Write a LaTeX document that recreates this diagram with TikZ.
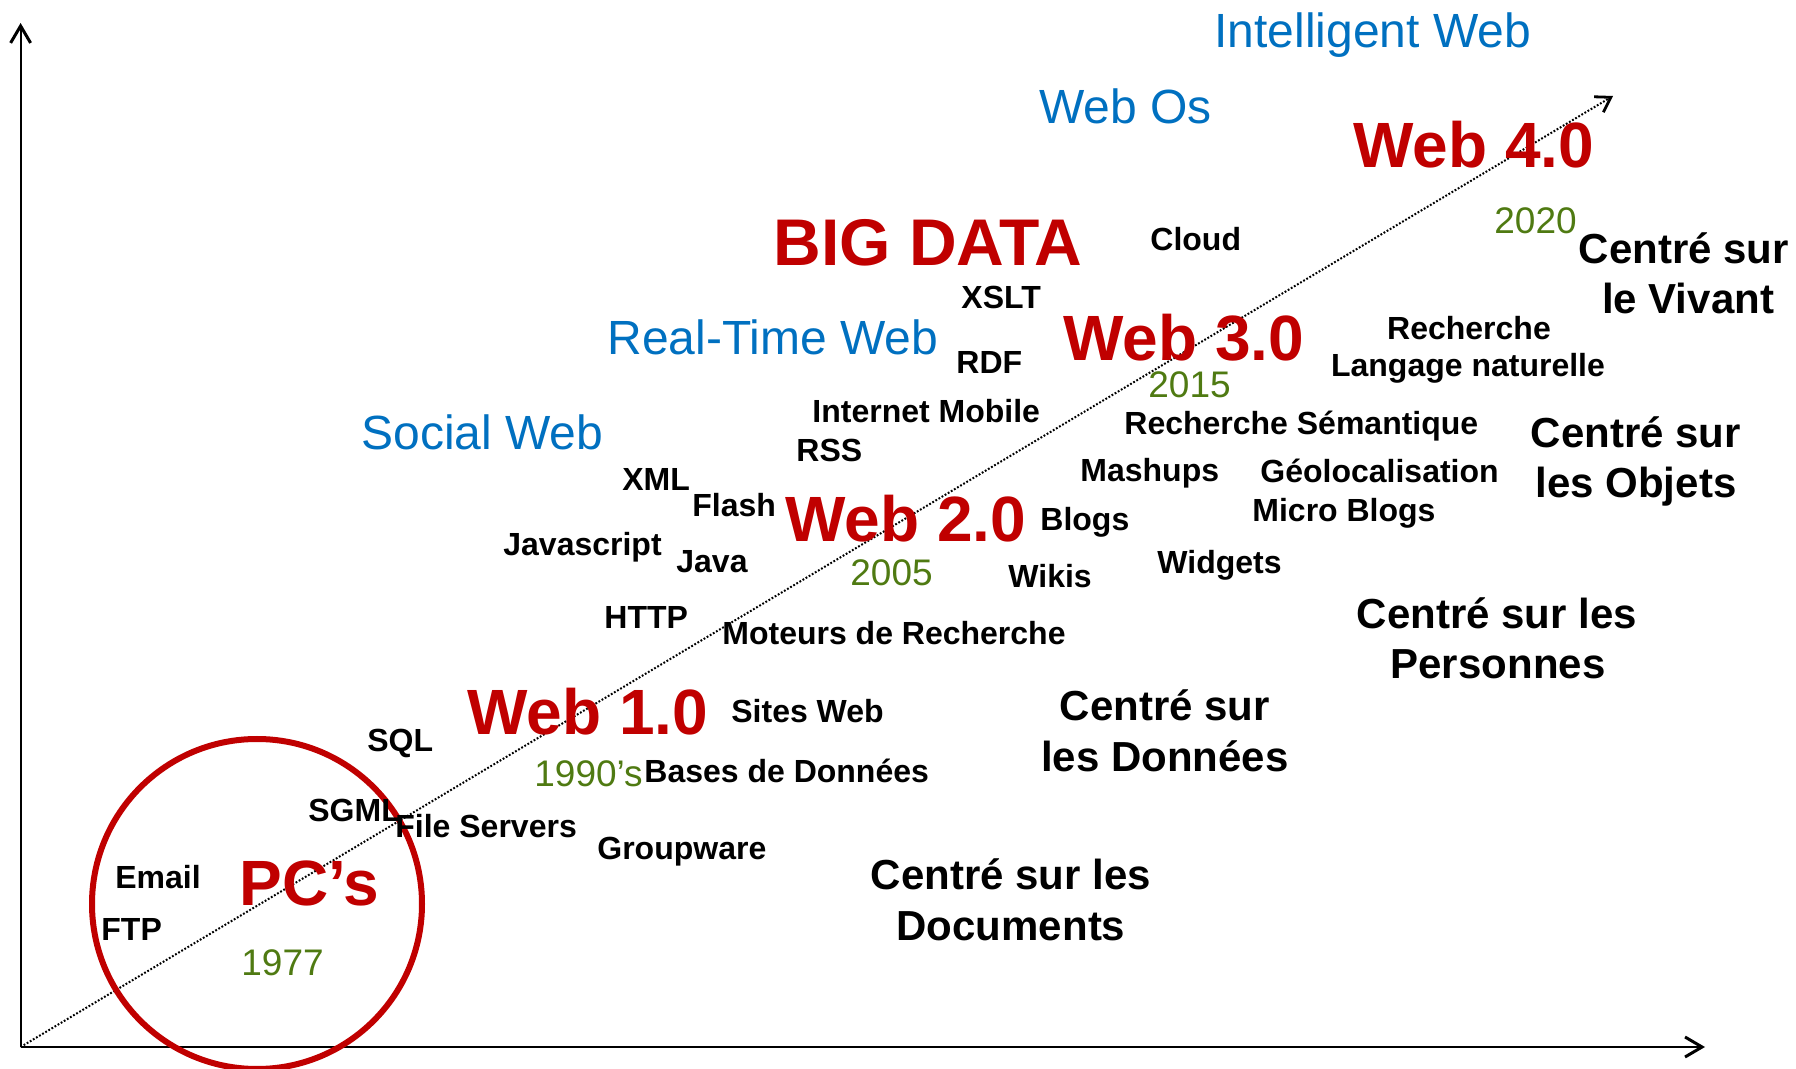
\documentclass[tikz,border=0pt]{standalone}
\usepackage{fontspec}
\setmainfont{Liberation Sans}
\usetikzlibrary{arrows.meta}
\definecolor{webred}{RGB}{192,0,0}
\definecolor{webblue}{RGB}{0,112,192}
\definecolor{webgreen}{RGB}{79,122,18}
\begin{document}
\begin{tikzpicture}[x=0.5pt,y=-0.5pt,
  blk/.style={font=\bfseries\fontsize{16}{19}\selectfont, anchor=base west, inner sep=0pt},
  bigc/.style={font=\bfseries\fontsize{21}{25}\selectfont, anchor=base, inner sep=0pt},
  era/.style={font=\bfseries\fontsize{32}{38}\selectfont, text=webred, anchor=base west, inner sep=0pt},
  blu/.style={font=\fontsize{24}{29}\selectfont, text=webblue, anchor=base west, inner sep=0pt},
  grn/.style={font=\fontsize{18.5}{22}\selectfont, text=webgreen, anchor=base west, inner sep=0pt},
  axis/.style={line width=1pt, -{Straight Barb[length=8.5pt,width=10pt,line width=1.5pt]}},
  diag/.style={line width=1pt, dash pattern=on 0.9pt off 0.9pt, -{Straight Barb[length=7pt,width=9pt,line width=1.4pt,line cap=butt]}},
  ring/.style={draw=webred, line width=3pt}
]
\useasboundingbox (0,0) rectangle (1796,1069);
\coordinate (O) at (20.6,1047);
\coordinate (ytop) at (20.6,23);
\coordinate (xend) at (1705,1047);
\coordinate (dend) at (1613,96);
\draw[axis] (O) -- (ytop);
\draw[axis] (O) -- (xend);
\draw[diag] (O) -- (dend);
\draw[ring] (257,904) circle (165);

% blue
\node[blu] (iweb) at (1214,48) {Intelligent Web};
\node[blu] (webos) at (1039,124) {Web Os};
\node[blu] (rtweb) at (607,355) {Real-Time Web};
\node[blu] (social) at (361,450) {Social Web};

% red
\node[era] (w4) at (1353,168) {Web 4.0};
\node[era, font=\bfseries\fontsize{33}{39}\selectfont] (bigdata) at (773,266) {BIG DATA};
\node[era] (w3) at (1063,361) {Web 3.0};
\node[era] (w2) at (785,542) {Web 2.0};
\node[era] (w1) at (467,735) {Web 1.0};
\node[era] (pcs) at (239,906) {PC’s};

% green
\node[grn] (y2020) at (1494,234) {2020};
\node[grn] (y2015) at (1148,398) {2015};
\node[grn] (y2005) at (850,586) {2005};
\node[grn] (y1990) at (534,787) {1990’s};
\node[grn] (y1977) at (241,975) {1977};

% big black
\node[bigc] (viv1) at (1684,264) {Centré sur};
\node[bigc] (viv2) at (1688,314) {le Vivant};
\node[bigc] (obj1) at (1636,448) {Centré sur};
\node[bigc] (obj2) at (1636,498) {les Objets};
\node[bigc] (per1) at (1497,629) {Centré sur les};
\node[bigc] (per2) at (1498,679) {Personnes};
\node[bigc] (don1) at (1165,721) {Centré sur};
\node[bigc] (don2) at (1165,772) {les Données};
\node[bigc] (doc1) at (1011,889) {Centré sur les};
\node[bigc] (doc2) at (1011,940) {Documents};

% small black
\node[blk] (cloud) at (1150,251) {Cloud};
\node[blk] (xslt) at (961,309) {XSLT};
\node[blk] (rdf) at (956,374) {RDF};
\node[blk, anchor=base] (rech1) at (1469,339.5) {Recherche};
\node[blk, anchor=base] (rech2) at (1468,376.5) {Langage naturelle};
\node[blk] (imob) at (812,422.5) {Internet Mobile};
\node[blk] (rsem) at (1124,434.5) {Recherche Sémantique};
\node[blk] (rss) at (796,461.5) {RSS};
\node[blk] (mash) at (1080,481.5) {Mashups};
\node[blk] (geo) at (1260,482.5) {Géolocalisation};
\node[blk] (xml) at (622,490.5) {XML};
\node[blk] (flash) at (692,516.5) {Flash};
\node[blk] (blogs) at (1040,530.5) {Blogs};
\node[blk] (mblogs) at (1252,521.5) {Micro Blogs};
\node[blk] (js) at (503,555.5) {Javascript};
\node[blk] (java) at (676,572.5) {Java};
\node[blk] (wikis) at (1008,587.5) {Wikis};
\node[blk] (widg) at (1157,573.5) {Widgets};
\node[blk] (http) at (604,628.5) {HTTP};
\node[blk] (moteurs) at (722,645) {Moteurs de Recherche};
\node[blk] (sites) at (731,722.5) {Sites Web};
\node[blk] (sql) at (367,751.5) {SQL};
\node[blk] (bdd) at (644,782.5) {Bases de Données};
\node[blk] (sgml) at (308,821.5) {SGML};
\node[blk] (files) at (395,837.5) {File Servers};
\node[blk] (group) at (597,859.5) {Groupware};
\node[blk] (email) at (115,888.5) {Email};
\node[blk] (ftp) at (101,940.5) {FTP};
\end{tikzpicture}
\end{document}
